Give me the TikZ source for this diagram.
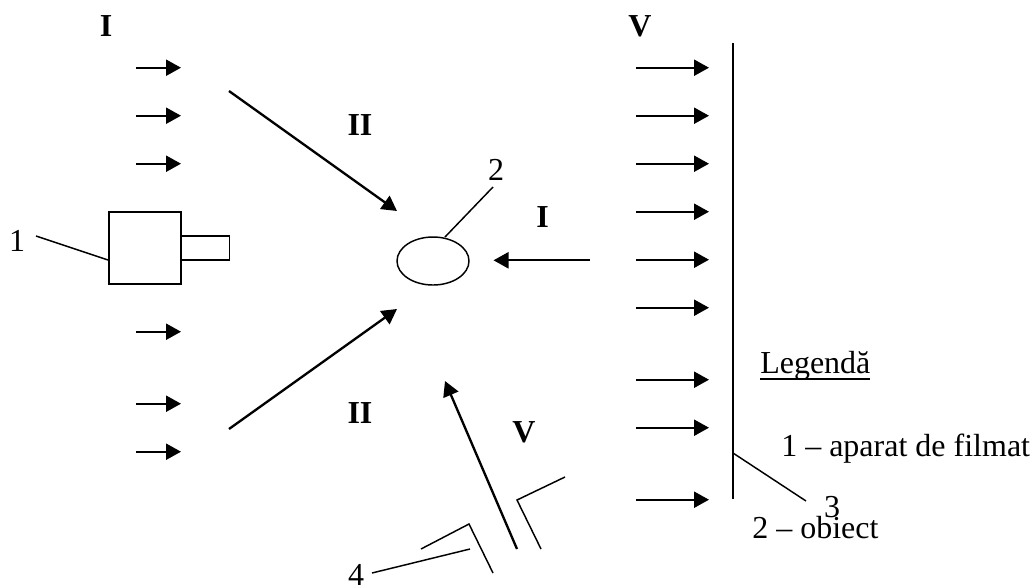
\documentclass[tikz,border=0pt]{standalone}
\usepackage{fontspec}
\setmainfont{Liberation Serif}
\usetikzlibrary{arrows.meta,shapes.geometric}
\tikzset{
  flow/.style={line width=1.75pt,-{Triangle[length=11.25pt,width=12pt]}},
  outline/.style={draw,line width=1.1pt},
  leader/.style={line width=1.1pt},
  lbl/.style={inner sep=0pt,font=\fontsize{24pt}{28pt}\selectfont},
  blbl/.style={lbl,font=\fontsize{24pt}{28pt}\selectfont\bfseries},
  tx/.style={lbl,anchor=base west},
  pt/.style={inner sep=0pt,outer sep=0pt,minimum size=0pt}
}
\begin{document}
\begin{tikzpicture}[x=0.75pt,y=-0.75pt]
\useasboundingbox (0,0) rectangle (1035,587);
\fill[white] (0,0) rectangle (1035,587);
% left column
\foreach \n/\y in {a/67.7,b/115.7,c/163.7,d/331.7,e/403.7,f/451.7}{
  \coordinate (l\n s) at (136,\y); \coordinate (l\n e) at (181,\y);
  \draw[flow] (l\n s) -- (l\n e);
}
% right column
\foreach \n/\y in {a/67.7,b/115.7,c/163.7,d/211.7,e/259.7,f/307.7,g/379.7,h/427.7,i/499.7}{
  \coordinate (r\n s) at (636,\y); \coordinate (r\n e) at (709,\y);
  \draw[flow] (r\n s) -- (r\n e);
}
% screen
\coordinate (st) at (733,43); \coordinate (sb) at (733,499);
\draw[leader] (st) -- (sb);
% camera
\node[outline,pt,minimum width=54pt,minimum height=54pt] (cam) at (145,248) {};
\node[outline,pt,minimum width=36pt,minimum height=18pt] (lens) at (205.5,248) {};
% object
\node[outline,pt,ellipse,minimum width=54pt,minimum height=36pt] (obj) at (433,261) {};
% diagonal arrows
\coordinate (d1s) at (229,91); \coordinate (d1e) at (397,211);
\coordinate (d2s) at (229,429); \coordinate (d2e) at (397,309);
\draw[flow] (d1s) -- (d1e);
\draw[flow] (d2s) -- (d2e);
\coordinate (hs) at (590,260.3); \coordinate (he) at (493.5,260.3);
\draw[flow] (hs) -- (he);
\coordinate (vs) at (517,549); \coordinate (ve) at (445,381);
\draw[flow] (vs) -- (ve);
% brackets
\coordinate (b1a) at (565,477); \coordinate (b1b) at (517,500); \coordinate (b1c) at (541,549);
\draw[leader] (b1a) -- (b1b) -- (b1c);
\coordinate (b2a) at (421,549); \coordinate (b2b) at (469,524); \coordinate (b2c) at (493,573);
\draw[leader] (b2a) -- (b2b) -- (b2c);
% labels
\node[blbl] (i1) at (106,26) {I};
\node[blbl] (v1) at (640,26) {V};
\node[blbl] (ii1) at (360,125) {II};
\node[blbl] (ii2) at (360,413) {II};
\node[blbl] (i2) at (542.5,217) {I};
\node[blbl] (v2) at (524,432) {V};
\node[lbl] (n1) at (17,241) {1};
\node[lbl] (n2) at (496,170) {2};
\node[lbl] (n3) at (832,507) {3};
\node[lbl] (n4) at (356,574.5) {4};
\node[tx] (leg) at (760,373) {\rlap{\rule[-5pt]{82.5pt}{1pt}}Legendă};
\node[tx] (t1) at (781,456) {1 – aparat de filmat};
\node[tx] (t2) at (752,538) {2 – obiect};
% leaders
\coordinate (c1a) at (36,236); \coordinate (c1b) at (108,260);
\draw[leader] (c1a) -- (c1b);
\coordinate (c2a) at (445,237); \coordinate (c2b) at (493,187);
\draw[leader] (c2a) -- (c2b);
\coordinate (c3a) at (733,453); \coordinate (c3b) at (806,501);
\draw[leader] (c3a) -- (c3b);
\coordinate (c4a) at (372,573); \coordinate (c4b) at (470,549);
\draw[leader] (c4a) -- (c4b);
\end{tikzpicture}
\end{document}
